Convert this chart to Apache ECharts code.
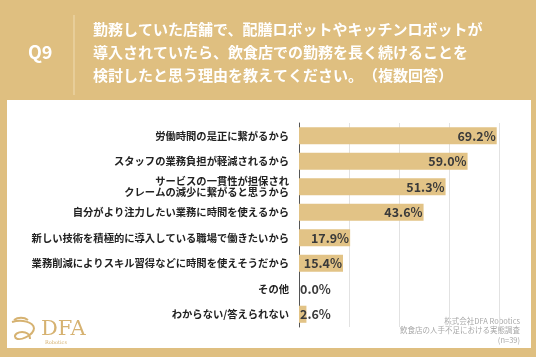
<!DOCTYPE html>
<html><head><meta charset="utf-8">
<script src="https://cdn.jsdelivr.net/npm/echarts@6/dist/echarts.min.js"></script>
<style>html,body{margin:0;padding:0;background:#dfbf80;}#c{width:536px;height:357px;}</style>
</head><body><div id="c"></div>
<script>
const categories = [
  "労働時間の是正に繋がるから",
  "スタッフの業務負担が軽減されるから",
  "サービスの一貫性が担保され\nクレームの減少に繋がると思うから",
  "自分がより注力したい業務に時間を使えるから",
  "新しい技術を積極的に導入している職場で働きたいから",
  "業務削減によりスキル習得などに時間を使えそうだから",
  "その他",
  "わからない/答えられない"
];
const values = [69.2, 59.0, 51.3, 43.6, 17.9, 15.4, 0.0, 2.6];
const titleLines = [
  "勤務していた店舗で、配膳ロボットやキッチンロボットが",
  "導入されていたら、飲食店での勤務を長く続けることを",
  "検討したと思う理由を教えてください。　（複数回答）"
];
const sourceLines = ["株式会社DFA Robotics", "飲食店の人手不足における実態調査", "(n=39)"];

const gold = '#dfbf80';
const barColor = '#e2c386';
const font = '"Noto Sans CJK JP", "Noto Sans", sans-serif';
const chart = echarts.init(document.getElementById('c'), null, {renderer: 'canvas'});

const graphics = [
  {type: 'rect', shape: {x: 7, y: 100, width: 524, height: 248}, style: {fill: '#ffffff'}, z: -10},
  {type: 'text', x: 28, y: 52, style: {text: 'Q9', fill: '#ffffff', font: 'bold 18px ' + font, verticalAlign: 'middle'}},
  {type: 'line', shape: {x1: 74, y1: 15, x2: 74, y2: 95}, style: {stroke: '#f0dcb2', lineWidth: 1}},
];
titleLines.forEach((t, i) => {
  graphics.push({type: 'text', x: 93, y: 29 + i * 23, style: {text: t, fill: '#ffffff', font: 'bold 15px ' + font, verticalAlign: 'middle'}});
});
sourceLines.forEach((t, i) => {
  graphics.push({type: 'text', x: 520, y: 321 + i * 9.5, style: {text: t, fill: '#a8a8a8', font: '7.5px ' + font, align: 'right', verticalAlign: 'middle'}});
});
// logo
const logoStroke = {stroke: '#d6b271', fill: null, lineWidth: 2};
graphics.push({type: 'bezierCurve', shape: {x1: 12, y1: 322, cpx1: 22, cpy1: 319, cpx2: 33, cpy2: 322, x2: 34, y2: 328}, style: logoStroke});
graphics.push({type: 'bezierCurve', shape: {x1: 34, y1: 328, cpx1: 34, cpy1: 335, cpx2: 18, cpy2: 343, x2: 15, y2: 337}, style: logoStroke});
graphics.push({type: 'bezierCurve', shape: {x1: 15, y1: 337, cpx1: 14, cpy1: 331, cpx2: 30, cpy2: 329, x2: 30, y2: 339}, style: logoStroke});
graphics.push({type: 'bezierCurve', shape: {x1: 14, y1: 320, cpx1: 18, cpy1: 317, cpx2: 24, cpy2: 317, x2: 28, y2: 320}, style: logoStroke});
graphics.push({type: 'text', x: 41, y: 330, style: {text: 'DFA', fill: '#d6b271', font: '21px "DejaVu Serif", "Liberation Serif", serif', verticalAlign: 'middle'}});
graphics.push({type: 'text', x: 45, y: 343, style: {text: 'Robotics', fill: '#d6b271', font: '5px "DejaVu Serif", serif', verticalAlign: 'middle'}});

chart.setOption({
  animation: false,
  backgroundColor: gold,
  graphic: graphics,
  grid: {left: 299, right: 37, top: 123, bottom: 30, containLabel: false},
  xAxis: {
    type: 'value', min: 0, max: 70, interval: 17.5,
    axisLabel: {show: false}, axisLine: {show: false}, axisTick: {show: false},
    splitLine: {lineStyle: {color: '#e2e2e2', width: 1}}
  },
  yAxis: {
    type: 'category', data: categories, inverse: true,
    axisLine: {lineStyle: {color: '#555', width: 1}}, axisTick: {show: false},
    axisLabel: {margin: 10, color: '#222', fontSize: 10.3, fontWeight: 'bold', fontFamily: font, lineHeight: 11}
  },
  series: [{
    type: 'bar', barCategoryGap: '33%',
    itemStyle: {color: barColor},
    data: values.map(v => ({value: v, label: {position: v < 10 ? 'insideLeft' : 'insideRight', distance: 1}})),
    label: {show: true, formatter: p => p.value.toFixed(1) + '%', color: '#3a3a3a', fontSize: 12.5, fontWeight: 'bold', fontFamily: font}
  }]
});
</script></body></html>
